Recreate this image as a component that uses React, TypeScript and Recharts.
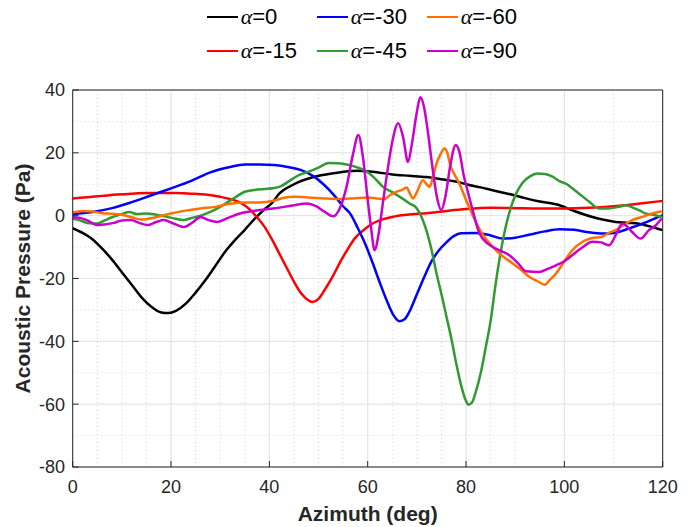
import React from 'react';
import { LineChart, Line, XAxis, YAxis, CartesianGrid, Label } from 'recharts';

const xTicks = [0, 20, 40, 60, 80, 100, 120];
const yTicks = [-80, -60, -40, -20, 0, 20, 40];
const xMinorTicks = [0, 5, 10, 15, 20, 25, 30, 35, 40, 45, 50, 55, 60, 65, 70, 75, 80, 85, 90, 95, 100, 105, 110, 115, 120];
const yMinorTicks = [-80, -75, -70, -65, -60, -55, -50, -45, -40, -35, -30, -25, -20, -15, -10, -5, 0, 5, 10, 15, 20, 25, 30, 35, 40];

const alpha0: [number, number][] = [
  [0, -4], [2, -5.5], [4, -7.5], [6, -10.5], [8, -14], [10, -18], [12, -22], [14, -26], [16, -29], [18, -30.8],
  [19.5, -31], [21, -30.3], [23, -28], [25, -24.5], [27, -20.5], [29, -16], [31, -11.5], [33, -7.8], [35, -4.5],
  [37, -1], [39, 2], [40.5, 4], [42, 7], [45, 10], [49, 12.3], [53, 13.5], [57.7, 14.3], [61, 14], [65, 13.1],
  [68.5, 12.7], [71.9, 12.3], [75, 11.6], [78.7, 10.6], [80, 10], [83, 9], [85.4, 8.1], [89, 6.8], [92.2, 5.5],
  [95, 4.5], [99, 3.3], [102, 1.5], [105.7, -0.4], [108, -1.3], [110.4, -2], [113, -2.3], [115.2, -2.6], [118, -3.7], [120, -4.6],
];

const alpha15: [number, number][] = [
  [0, 5.5], [3, 5.9], [6, 6.3], [9, 6.7], [12, 7], [15, 7.2], [18, 7.2], [21, 7.2], [24, 7], [27, 6.7], [30, 6],
  [32, 5.3], [34, 4.2], [36, 2], [37.5, -0.5], [39, -3.5], [40.5, -7.5], [42, -12], [43.5, -16.5], [45, -21],
  [46.5, -24.8], [48, -27], [48.8, -27.5], [50, -26.5], [51.5, -23], [53, -19], [54.5, -14.5], [56, -10.5],
  [57.5, -7], [59, -4.8], [61, -2.5], [63, -1.2], [65, -0.4], [68, 0.3], [72, 0.8], [76, 1.5], [80, 2.1],
  [85, 2.5], [90, 2.4], [95, 2.3], [100, 2.3], [105, 2.5], [110, 3], [115, 3.8], [120, 4.7],
];

const alpha30: [number, number][] = [
  [0, 0.5], [4, 1.2], [8, 2.4], [12, 4.3], [16, 6.5], [20, 8.7], [24, 11], [28, 13.8], [32, 15.5], [35, 16.3],
  [38, 16.3], [41, 16.1], [44, 15.4], [46.5, 14.5], [49, 12.5], [51, 10], [53, 6.8], [55, 3], [56.5, 0.5],
  [58, -4], [59.5, -9], [61, -15], [62.5, -21.5], [64, -27.5], [65.3, -31.8], [66.5, -33.6], [67.5, -33],
  [68.5, -30.5], [70, -25], [71.5, -19.5], [73, -14.5], [74.5, -11], [76, -8.5], [77.5, -6.5], [79, -5.6],
  [82, -5.5], [85, -6.3], [87.4, -7.3], [90, -7], [93, -6], [96, -5], [99, -4.3], [102, -4.5], [105, -5.3],
  [107.7, -5.7], [110, -5.5], [112, -4.7], [114, -3.6], [116, -2.5], [118, -1.2], [120, 0.2],
];

const alpha45: [number, number][] = [
  [0, -1], [1.5, -1.5], [3, -2.3], [5, -2.5], [6.5, -1.5], [8, -0.5], [10, 0.5], [11.5, 1.2], [13, 0.5],
  [15, 0.7], [17, 0.3], [19, -0.3], [21, -1], [22.5, -1.4], [24, -0.8], [26, 0], [28, 1.2], [30, 2.8],
  [31.5, 4.3], [33, 5.8], [35, 7.6], [37, 8.2], [39, 8.5], [41, 8.8], [42.5, 9.5], [44, 11], [46, 12.9],
  [48, 14], [50, 15.3], [52, 16.8], [54, 16.7], [56, 16.2], [58, 15.3], [60, 13.8], [62, 11], [63, 9.3],
  [65, 7.5], [67, 5.5], [68.5, 3.9], [70, 2.3], [71.2, -1.4], [72, -5], [73, -11], [74, -18.4], [75, -25],
  [76, -32], [77, -39], [78, -47], [79, -54], [80, -59], [80.5, -60.2], [81.2, -59.5], [82, -56], [83, -50],
  [84, -42], [85, -33.5], [86, -22], [87, -12], [88, -4], [89, 2], [90.2, 7.1], [91.5, 10.5], [93, 12.5],
  [94.5, 13.4], [96, 13.3], [97.6, 12.4], [99, 11], [100.5, 10], [101.6, 8.7], [103, 7], [105, 4.5],
  [107, 2.3], [109, 2.3], [111, 2.8], [112.5, 3.3], [114, 2.5], [115.5, 1.5], [116.5, 0.7], [118, 0.3], [119.8, -0.4],
];

const alpha60: [number, number][] = [
  [0, 1], [2, 1.5], [4, 1.3], [6, 0.8], [8, 0.6], [10, 0.3], [12, -0.5], [14, -1.2], [16, -0.8], [18, 0],
  [20, 0.7], [23, 1.6], [26, 2.3], [29, 2.8], [32, 3.8], [35, 4.2], [38, 4.2], [41, 4.8], [43, 5.7], [45, 6],
  [48, 5.8], [51, 5.5], [54, 5.3], [57, 5.5], [60, 5.8], [62, 5.5], [63.3, 5.2], [64.5, 6.5], [65.8, 7.6],
  [67, 8.2], [67.9, 9], [68.6, 7], [69.2, 5.5], [70, 7.5], [71.2, 11.3], [72, 10], [72.6, 9.2], [73.3, 12.5],
  [74, 16.6], [74.8, 19.5], [75.6, 21.4], [76.2, 20], [76.8, 16], [77.7, 13], [78.7, 10], [80, 5], [81.4, 0],
  [83, -5], [85.4, -9.9], [87.5, -13], [89.5, -15.2], [91, -17], [92.9, -19.5], [94.5, -20.8], [96, -22],
  [97, -20.5], [98.3, -18.4], [100, -14.5], [101.6, -11], [103.7, -8.3], [105.5, -7.2], [107.7, -6.7],
  [109, -5.5], [110.4, -4.6], [112, -3], [113.8, -1.4], [116, -0.3], [117.9, 0.7], [119.8, 1.4],
];

const alpha90: [number, number][] = [
  [0, -0.5], [1.5, -0.7], [3, -1.5], [5, -3], [6.5, -2.8], [8.4, -2.3], [10, -1.5], [11.8, -1.4], [13.5, -2.3],
  [15.2, -3], [17, -2], [18.5, -1.4], [20.5, -2.5], [22.6, -3.6], [24.5, -2], [26, -0.4], [27.8, -1.5],
  [29.4, -2], [31.5, -0.8], [34, 0.7], [36, 1.3], [38, 1.8], [40.8, 2.3], [43, 2.8], [45, 3.3], [47.6, 3.9],
  [49.5, 3], [51, 1.5], [53, -0.2], [54.5, 3], [55.7, 9.2], [57, 19.5], [58.1, 25.7], [59, 19], [60, 5],
  [60.7, -4], [61.4, -11], [62.2, -6], [63, 3], [64, 14], [65, 23.5], [66.2, 29.4], [67.2, 25], [68.2, 17.1],
  [69, 23], [70, 33], [70.7, 37.7], [71.4, 35], [72.3, 26], [73.2, 15], [74.2, 5], [75, 1.8], [75.8, 6],
  [76.8, 16], [77.9, 22.5], [78.7, 20], [79.5, 13], [80.3, 8], [81.3, 2], [82.7, -5.5], [84.5, -9],
  [86.1, -10.5], [87.5, -11.5], [88.8, -12.6], [90.5, -15], [92.2, -17.7], [94.9, -17.9], [96.5, -17],
  [98.3, -15.8], [100, -14.5], [101.6, -12.6], [103.5, -10.3], [105.7, -8.3], [107.5, -8.5], [109.1, -9.4],
  [110.5, -6], [111.8, -2.5], [112.8, -3.5], [113.8, -5.2], [115.5, -7.3], [117.2, -4.6], [118.5, -3.2], [119.8, -0.9],
];

const seriesNames = ['0', '-15', '-30', '-45', '-60', '-90'];
const seriesColors = ['#000000', '#ff0000', '#0000ff', '#339933', '#ff7000', '#cc00cc'];
const seriesValues = [alpha0, alpha15, alpha30, alpha45, alpha60, alpha90];

const series = seriesNames.map((name, i) => ({
  name,
  color: seriesColors[i],
  data: seriesValues[i].map(([x, y]) => ({ x, y })),
}));

const FONT = '"Liberation Sans", Arial, Helvetica, sans-serif';
const AXIS_COLOR = '#262626';

const Legend6 = () => (
  <>
    {series.map((s, i) => {
      const col = Math.floor(i / 2);
      const row = i % 2;
      return (
        <div
          key={s.name}
          style={{
            position: 'absolute',
            left: 206.7 + col * 110,
            top: 2.3 + row * 33.4,
            height: 30,
            display: 'flex',
            alignItems: 'center',
            fontFamily: FONT,
            fontSize: 22,
            color: '#000',
            whiteSpace: 'nowrap',
          }}
        >
          <div style={{ width: 31, height: 2, background: s.color, marginRight: 3 }} />
          <span>
            <span style={{ fontFamily: '"Liberation Serif", "Times New Roman", serif', fontStyle: 'italic' }}>α</span>
            ={s.name}
          </span>
        </div>
      );
    })}
  </>
);

export default function App() {
  return (
    <div style={{ position: 'absolute', left: 0, top: 0, width: 693, height: 527, background: '#fff' }}>
      <Legend6 />
      <div style={{ position: 'absolute', left: 0, top: 0 }}>
        <LineChart width={693} height={527} margin={{ top: 89, right: 29.3, bottom: 0, left: 0 }}>
          <CartesianGrid
            stroke="#d4d4d4"
            strokeDasharray="1 3"
            horizontalValues={yMinorTicks}
            verticalValues={xMinorTicks}
          />
          <CartesianGrid stroke="#e3e3e3" strokeWidth={1} />
          <XAxis
            dataKey="x"
            type="number"
            domain={[0, 120]}
            ticks={xTicks}
            allowDataOverflow
            height={60}
            tickSize={-6}
            tickMargin={19}
            axisLine={{ stroke: AXIS_COLOR }}
            tickLine={{ stroke: AXIS_COLOR }}
            tick={{ fontSize: 18, fill: AXIS_COLOR, fontFamily: FONT }}
          >
            <Label
              content={(props: any) => {
                const vb = props.viewBox || { x: 72.7, y: 467, width: 590, height: 60 };
                return (
                  <text
                    x={vb.x + vb.width / 2}
                    y={vb.y + 46}
                    textAnchor="middle"
                    dominantBaseline="central"
                    fontFamily={FONT}
                    fontWeight="bold"
                    fontSize={21}
                    fill={AXIS_COLOR}
                  >
                    Azimuth (deg)
                  </text>
                );
              }}
            />
          </XAxis>
          <XAxis
            xAxisId="top"
            orientation="top"
            dataKey="x"
            type="number"
            domain={[0, 120]}
            ticks={xTicks}
            height={1}
            tickSize={-6}
            tick={false}
            axisLine={{ stroke: AXIS_COLOR }}
            tickLine={{ stroke: AXIS_COLOR }}
          />
          <YAxis
            type="number"
            domain={[-80, 40]}
            ticks={yTicks}
            allowDataOverflow
            width={72.7}
            tickSize={-6}
            tickMargin={13.7}
            axisLine={{ stroke: AXIS_COLOR }}
            tickLine={{ stroke: AXIS_COLOR }}
            tick={{ fontSize: 18, fill: AXIS_COLOR, fontFamily: FONT }}
          >
            <Label
              content={(props: any) => {
                const vb = props.viewBox || { x: 0, y: 90, width: 72.7, height: 377 };
                const cx = 22.5;
                const cy = vb.y + vb.height / 2;
                return (
                  <text
                    x={cx}
                    y={cy}
                    transform={`rotate(-90 ${cx} ${cy})`}
                    textAnchor="middle"
                    dominantBaseline="central"
                    fontFamily={FONT}
                    fontWeight="bold"
                    fontSize={21}
                    fill={AXIS_COLOR}
                  >
                    Acoustic Pressure (Pa)
                  </text>
                );
              }}
            />
          </YAxis>
          <YAxis
            yAxisId="right"
            orientation="right"
            type="number"
            domain={[-80, 40]}
            ticks={yTicks}
            width={1}
            tickSize={-6}
            tick={false}
            axisLine={{ stroke: AXIS_COLOR }}
            tickLine={{ stroke: AXIS_COLOR }}
          />
          {series.map((s) => (
            <Line
              key={s.name}
              data={s.data}
              dataKey="y"
              name={s.name}
              type="monotone"
              stroke={s.color}
              strokeWidth={2.5}
              dot={false}
              activeDot={false}
              isAnimationActive={false}
            />
          ))}
        </LineChart>
      </div>
    </div>
  );
}
